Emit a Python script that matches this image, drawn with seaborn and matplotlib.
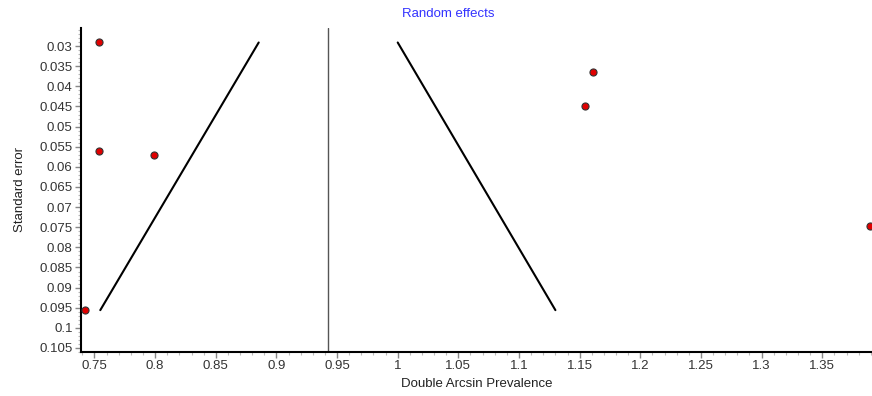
import matplotlib
matplotlib.use("Agg")
import matplotlib.pyplot as plt
import seaborn as sns
import pandas as pd
from matplotlib.ticker import MultipleLocator, FixedLocator

sns.set_style("white")
plt.rcParams['font.family'] = ['Liberation Sans', 'DejaVu Sans']

# study estimates
effect = [0.7535, 0.7535, 0.799, 0.7424, 1.1543, 1.1606, 1.389]
std_err = [0.0291, 0.0560, 0.0571, 0.0956, 0.0450, 0.0365, 0.0747]

# pooled estimate and funnel limits
pooled = 0.9423
funnel_left_x = [0.8854, 0.7548]
funnel_right_x = [1.0000, 1.1300]
funnel_se = [0.0291, 0.0956]

x_ticks = [0.75, 0.8, 0.85, 0.9, 0.95, 1.0, 1.05, 1.1, 1.15, 1.2, 1.25, 1.3, 1.35]
x_tick_labels = ["0.75", "0.8", "0.85", "0.9", "0.95", "1", "1.05", "1.1", "1.15", "1.2", "1.25", "1.3", "1.35"]
y_ticks = [0.03, 0.035, 0.04, 0.045, 0.05, 0.055, 0.06, 0.065, 0.07, 0.075, 0.08, 0.085, 0.09, 0.095, 0.1, 0.105]
y_tick_labels = ["0.03", "0.035", "0.04", "0.045", "0.05", "0.055", "0.06", "0.065", "0.07", "0.075", "0.08", "0.085", "0.09", "0.095", "0.1", "0.105"]

fig = plt.figure(figsize=(8.72, 3.96), dpi=100)
ax = fig.add_axes([81/872, 1 - 352/396, (872 - 81)/872, (352 - 28)/396])

ax.axvline(pooled, color="#555555", lw=1.0, ymin=0.0, ymax=1.0)
sns.lineplot(x=funnel_left_x, y=funnel_se, ax=ax, color="black", lw=1.5, sort=False, estimator=None)
sns.lineplot(x=funnel_right_x, y=funnel_se, ax=ax, color="black", lw=1.5, sort=False, estimator=None)
sns.scatterplot(x=effect, y=std_err, ax=ax, color="#e00000", edgecolor="#333333",
                linewidth=0.8, s=26, zorder=5)

ax.set_xlim(0.7389, 1.391)
ax.set_ylim(0.1060, 0.0255)
ax.xaxis.set_major_locator(FixedLocator(x_ticks))
ax.set_xticklabels(x_tick_labels)
ax.xaxis.set_minor_locator(MultipleLocator(0.01))
ax.yaxis.set_major_locator(FixedLocator(y_ticks))
ax.set_yticklabels(y_tick_labels)
ax.yaxis.set_minor_locator(MultipleLocator(0.001))

for s in ["top", "right"]:
    ax.spines[s].set_visible(False)
for s in ["left", "bottom"]:
    ax.spines[s].set_color("black")
    ax.spines[s].set_linewidth(1.5)

ax.tick_params(axis="both", which="major", direction="out", length=4, width=1,
               color="#888888", labelsize=9.5, labelcolor="#333333", pad=2, left=True, bottom=True)
ax.tick_params(axis="both", which="minor", direction="out", length=2, width=0.8,
               color="#bbbbbb", left=True, bottom=True)

ax.set_xlabel("Double Arcsin Prevalence", fontsize=9.5, color="#222222", labelpad=4)
ax.set_ylabel("Standard error", fontsize=9.5, color="#222222", labelpad=10)
fig.text(448/872, 1 - 14/396, "Random effects", color="#3333ff", fontsize=9.5,
         ha="center", va="center")

fig.savefig("out.png", dpi=100)
